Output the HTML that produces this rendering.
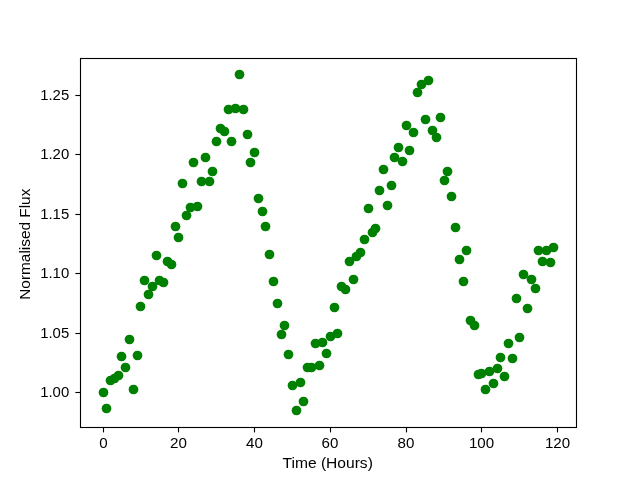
<!DOCTYPE html>
<html><head><meta charset="utf-8"><style>
html,body{margin:0;padding:0;background:#fff;}
svg{display:block;will-change:transform;}
text{font-family:"Liberation Sans",sans-serif;font-size:14px;fill:#000;}
</style></head><body>
<svg width="640" height="480" viewBox="0 0 640 480">
<rect x="0" y="0" width="640" height="480" fill="#fff"/>
<g fill="#008000">
<circle cx="103.5" cy="392.5" r="4.86"/>
<circle cx="106.5" cy="408.5" r="4.86"/>
<circle cx="110.5" cy="380.5" r="4.86"/>
<circle cx="114.5" cy="378.5" r="4.86"/>
<circle cx="118.5" cy="375.5" r="4.86"/>
<circle cx="121.5" cy="356.5" r="4.86"/>
<circle cx="125.5" cy="367.5" r="4.86"/>
<circle cx="129.5" cy="339.5" r="4.86"/>
<circle cx="133.5" cy="389.5" r="4.86"/>
<circle cx="137.5" cy="355.5" r="4.86"/>
<circle cx="140.5" cy="306.5" r="4.86"/>
<circle cx="144.5" cy="280.5" r="4.86"/>
<circle cx="148.5" cy="294.5" r="4.86"/>
<circle cx="152.5" cy="286.5" r="4.86"/>
<circle cx="156.5" cy="255.5" r="4.86"/>
<circle cx="159.5" cy="280.5" r="4.86"/>
<circle cx="163.5" cy="282.5" r="4.86"/>
<circle cx="167.5" cy="261.5" r="4.86"/>
<circle cx="171.5" cy="264.5" r="4.86"/>
<circle cx="175.5" cy="226.5" r="4.86"/>
<circle cx="178.5" cy="237.5" r="4.86"/>
<circle cx="182.5" cy="183.5" r="4.86"/>
<circle cx="186.5" cy="215.5" r="4.86"/>
<circle cx="190.5" cy="207.5" r="4.86"/>
<circle cx="193.5" cy="162.5" r="4.86"/>
<circle cx="197.5" cy="206.5" r="4.86"/>
<circle cx="201.5" cy="181.5" r="4.86"/>
<circle cx="205.5" cy="157.5" r="4.86"/>
<circle cx="209.5" cy="181.5" r="4.86"/>
<circle cx="212.5" cy="171.5" r="4.86"/>
<circle cx="216.5" cy="141.5" r="4.86"/>
<circle cx="220.5" cy="128.5" r="4.86"/>
<circle cx="224.5" cy="131.5" r="4.86"/>
<circle cx="228.5" cy="109.5" r="4.86"/>
<circle cx="231.5" cy="141.5" r="4.86"/>
<circle cx="235.5" cy="108.5" r="4.86"/>
<circle cx="239.5" cy="74.5" r="4.86"/>
<circle cx="243.5" cy="109.5" r="4.86"/>
<circle cx="247.5" cy="134.5" r="4.86"/>
<circle cx="250.5" cy="162.5" r="4.86"/>
<circle cx="254.5" cy="152.5" r="4.86"/>
<circle cx="258.5" cy="198.5" r="4.86"/>
<circle cx="262.5" cy="211.5" r="4.86"/>
<circle cx="265.5" cy="226.5" r="4.86"/>
<circle cx="269.5" cy="254.5" r="4.86"/>
<circle cx="273.5" cy="281.5" r="4.86"/>
<circle cx="277.5" cy="303.5" r="4.86"/>
<circle cx="281.5" cy="334.5" r="4.86"/>
<circle cx="284.5" cy="325.5" r="4.86"/>
<circle cx="288.5" cy="354.5" r="4.86"/>
<circle cx="292.5" cy="385.5" r="4.86"/>
<circle cx="296.5" cy="410.5" r="4.86"/>
<circle cx="300.5" cy="382.5" r="4.86"/>
<circle cx="303.5" cy="401.5" r="4.86"/>
<circle cx="307.5" cy="367.5" r="4.86"/>
<circle cx="311.5" cy="367.5" r="4.86"/>
<circle cx="315.5" cy="343.5" r="4.86"/>
<circle cx="319.5" cy="365.5" r="4.86"/>
<circle cx="322.5" cy="342.5" r="4.86"/>
<circle cx="326.5" cy="353.5" r="4.86"/>
<circle cx="330.5" cy="336.5" r="4.86"/>
<circle cx="334.5" cy="307.5" r="4.86"/>
<circle cx="337.5" cy="333.5" r="4.86"/>
<circle cx="341.5" cy="286.5" r="4.86"/>
<circle cx="345.5" cy="289.5" r="4.86"/>
<circle cx="349.5" cy="261.5" r="4.86"/>
<circle cx="353.5" cy="279.5" r="4.86"/>
<circle cx="356.5" cy="256.5" r="4.86"/>
<circle cx="360.5" cy="252.5" r="4.86"/>
<circle cx="364.5" cy="239.5" r="4.86"/>
<circle cx="368.5" cy="208.5" r="4.86"/>
<circle cx="372.5" cy="232.5" r="4.86"/>
<circle cx="375.5" cy="228.5" r="4.86"/>
<circle cx="379.5" cy="190.5" r="4.86"/>
<circle cx="383.5" cy="169.5" r="4.86"/>
<circle cx="387.5" cy="205.5" r="4.86"/>
<circle cx="391.5" cy="185.5" r="4.86"/>
<circle cx="394.5" cy="157.5" r="4.86"/>
<circle cx="398.5" cy="147.5" r="4.86"/>
<circle cx="402.5" cy="161.5" r="4.86"/>
<circle cx="406.5" cy="125.5" r="4.86"/>
<circle cx="409.5" cy="150.5" r="4.86"/>
<circle cx="413.5" cy="132.5" r="4.86"/>
<circle cx="417.5" cy="92.5" r="4.86"/>
<circle cx="421.5" cy="84.5" r="4.86"/>
<circle cx="425.5" cy="119.5" r="4.86"/>
<circle cx="428.5" cy="80.5" r="4.86"/>
<circle cx="432.5" cy="130.5" r="4.86"/>
<circle cx="436.5" cy="137.5" r="4.86"/>
<circle cx="440.5" cy="117.5" r="4.86"/>
<circle cx="444.5" cy="180.5" r="4.86"/>
<circle cx="447.5" cy="171.5" r="4.86"/>
<circle cx="451.5" cy="196.5" r="4.86"/>
<circle cx="455.5" cy="227.5" r="4.86"/>
<circle cx="459.5" cy="259.5" r="4.86"/>
<circle cx="463.5" cy="281.5" r="4.86"/>
<circle cx="466.5" cy="250.5" r="4.86"/>
<circle cx="470.5" cy="320.5" r="4.86"/>
<circle cx="474.5" cy="325.5" r="4.86"/>
<circle cx="478.5" cy="374.5" r="4.86"/>
<circle cx="481.5" cy="373.5" r="4.86"/>
<circle cx="485.5" cy="389.5" r="4.86"/>
<circle cx="489.5" cy="371.5" r="4.86"/>
<circle cx="493.5" cy="383.5" r="4.86"/>
<circle cx="497.5" cy="368.5" r="4.86"/>
<circle cx="500.5" cy="357.5" r="4.86"/>
<circle cx="504.5" cy="376.5" r="4.86"/>
<circle cx="508.5" cy="343.5" r="4.86"/>
<circle cx="512.5" cy="358.5" r="4.86"/>
<circle cx="516.5" cy="298.5" r="4.86"/>
<circle cx="519.5" cy="337.5" r="4.86"/>
<circle cx="523.5" cy="274.5" r="4.86"/>
<circle cx="527.5" cy="308.5" r="4.86"/>
<circle cx="531.5" cy="279.5" r="4.86"/>
<circle cx="535.5" cy="288.5" r="4.86"/>
<circle cx="538.5" cy="250.5" r="4.86"/>
<circle cx="542.5" cy="261.5" r="4.86"/>
<circle cx="546.5" cy="250.5" r="4.86"/>
<circle cx="550.5" cy="262.5" r="4.86"/>
<circle cx="553.5" cy="247.5" r="4.86"/>
</g>
<g stroke="#000" stroke-width="1.11" fill="none">
<rect x="80.5" y="58.5" width="496" height="369"/>
<line x1="103.5" y1="427.5" x2="103.5" y2="432.4"/>
<line x1="178.5" y1="427.5" x2="178.5" y2="432.4"/>
<line x1="254.5" y1="427.5" x2="254.5" y2="432.4"/>
<line x1="330.5" y1="427.5" x2="330.5" y2="432.4"/>
<line x1="406.5" y1="427.5" x2="406.5" y2="432.4"/>
<line x1="481.5" y1="427.5" x2="481.5" y2="432.4"/>
<line x1="557.5" y1="427.5" x2="557.5" y2="432.4"/>
<line x1="75.4" y1="392.5" x2="80.5" y2="392.5"/>
<line x1="75.4" y1="333.5" x2="80.5" y2="333.5"/>
<line x1="75.4" y1="273.5" x2="80.5" y2="273.5"/>
<line x1="75.4" y1="214.5" x2="80.5" y2="214.5"/>
<line x1="75.4" y1="154.5" x2="80.5" y2="154.5"/>
<line x1="75.4" y1="95.5" x2="80.5" y2="95.5"/>
</g>
<g>
<text transform="translate(103.5,448) scale(1.08,1)" text-anchor="middle">0</text>
<text transform="translate(178.5,448) scale(1.08,1)" text-anchor="middle">20</text>
<text transform="translate(254.5,448) scale(1.08,1)" text-anchor="middle">40</text>
<text transform="translate(329.9,448) scale(1.08,1)" text-anchor="middle">60</text>
<text transform="translate(406.0,448) scale(1.08,1)" text-anchor="middle">80</text>
<text transform="translate(481.5,448) scale(1.08,1)" text-anchor="middle">100</text>
<text transform="translate(557.5,448) scale(1.08,1)" text-anchor="middle">120</text>
<text transform="translate(69.2,397.2) scale(1.065,1)" text-anchor="end">1.00</text>
<text transform="translate(69.2,338.2) scale(1.065,1)" text-anchor="end">1.05</text>
<text transform="translate(69.2,278.2) scale(1.065,1)" text-anchor="end">1.10</text>
<text transform="translate(69.2,219.2) scale(1.065,1)" text-anchor="end">1.15</text>
<text transform="translate(69.2,159.2) scale(1.065,1)" text-anchor="end">1.20</text>
<text transform="translate(69.2,100.2) scale(1.065,1)" text-anchor="end">1.25</text>
<text transform="translate(327.7,467.6) scale(1.114,1)" text-anchor="middle">Time (Hours)</text>
<text transform="translate(30,244.2) rotate(-90) scale(1.10,1)" text-anchor="middle">Normalised Flux</text>
</g>
</svg>
</body></html>
